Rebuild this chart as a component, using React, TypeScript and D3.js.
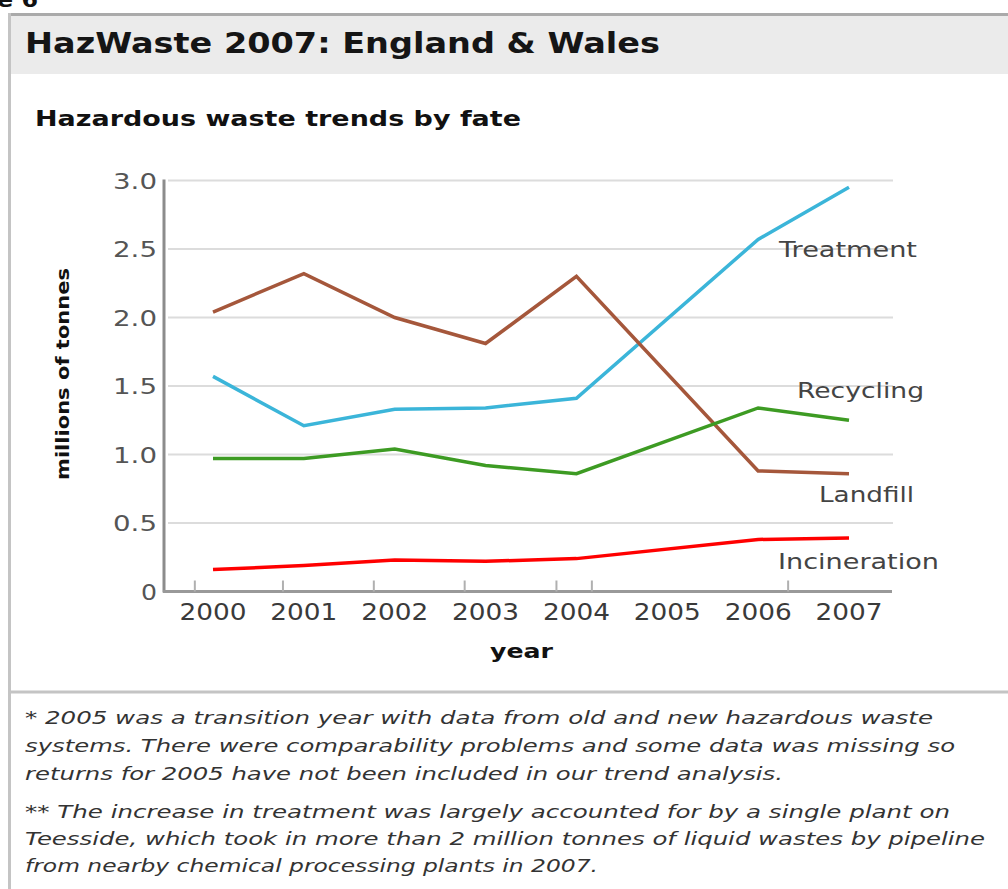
import * as d3 from 'd3'

// years with data (2005 left out of the trend analysis)
const years = [2000, 2001, 2002, 2003, 2004, 2006, 2007]
const yearLabels = ['2000', '2001', '2002', '2003', '2004', '2005', '2006', '2007']
const tickYears = [1999.8, 2000.77, 2001.77, 2002.77, 2003.78, 2004.17, 2006.33]
const yTicks = [0, 0.5, 1.0, 1.5, 2.0, 2.5, 3.0]

const treatment = [1.57, 1.21, 1.33, 1.34, 1.41, 2.57, 2.95]
const landfill = [2.04, 2.32, 2.0, 1.81, 2.3, 0.88, 0.86]
const recycling = [0.97, 0.97, 1.04, 0.92, 0.86, 1.34, 1.25]
const incineration = [0.16, 0.19, 0.23, 0.22, 0.24, 0.38, 0.39]

const seriesNames = ['Treatment', 'Landfill', 'Recycling', 'Incineration']
const seriesColors = ['#3bb5d9', '#a5573b', '#3d9b23', '#ff0000']

const footnote1 = [
  '* 2005 was a transition year with data from old and new hazardous waste',
  'systems. There were comparability problems and some data was missing so',
  'returns for 2005 have not been included in our trend analysis.'
]
const footnote2 = [
  '** The increase in treatment was largely accounted for by a single plant on',
  'Teesside, which took in more than 2 million tonnes of liquid wastes by pipeline',
  'from nearby chemical processing plants in 2007.'
]

const FONT = '"DejaVu Sans", Verdana, sans-serif'

export default function App() {
  const width = 1008
  const height = 889

  const x = d3.scaleLinear().domain([2000, 2007]).range([213, 849])
  const y = d3.scaleLinear().domain([0, 3]).range([591.5, 180.5])

  const allSeries = [treatment, landfill, recycling, incineration]
  const line = d3
    .line<number>()
    .x((_, i) => x(years[i]))
    .y(d => y(d))

  // label placement: [x, baseline, width]
  const labelPos: [number, number, number][] = [
    [779, 257, 138],
    [819, 502, 95],
    [797, 398, 127],
    [778, 569, 161]
  ]
  const fn1Widths = [908, 930, 758]
  const fn2Widths = [925, 960, 573]

  return (
    <svg
      width={width}
      height={height}
      style={{ position: 'absolute', left: 0, top: 0, background: '#fff' }}
      fontFamily={FONT}
    >
      {/* cropped caption at the very top */}
      <text x={-3} y={7} fontSize={22} fontWeight="bold" fill="#111" textLength={41} lengthAdjust="spacingAndGlyphs">
        e 6
      </text>

      {/* frame + header */}
      <rect x={11} y={16} width={997} height={58} fill="#ebebeb" />
      <line x1={8} x2={1008} y1={14.5} y2={14.5} stroke="#aaa" strokeWidth={3} />
      <line x1={9.5} x2={9.5} y1={13} y2={889} stroke="#c4c4c4" strokeWidth={3} />
      <text x={25} y={53} fontSize={29} fontWeight="bold" fill="#151515" textLength={635} lengthAdjust="spacingAndGlyphs">
        HazWaste 2007: England &amp; Wales
      </text>
      <text x={35} y={126} fontSize={22} fontWeight="bold" fill="#111" textLength={486} lengthAdjust="spacingAndGlyphs">
        Hazardous waste trends by fate
      </text>

      {/* grid */}
      {yTicks.slice(1).map(t => (
        <line key={t} x1={168} x2={893} y1={y(t)} y2={y(t)} stroke="#dcdcdc" strokeWidth={2} />
      ))}

      {/* axes */}
      <line x1={164} x2={164} y1={y(3) - 1} y2={y(0) + 1} stroke="#8c8c8c" strokeWidth={3} />
      <line x1={163} x2={892} y1={y(0)} y2={y(0)} stroke="#999" strokeWidth={3} />
      {tickYears.map(t => (
        <line key={t} x1={x(t)} x2={x(t)} y1={y(0) - 11} y2={y(0)} stroke="#b0b0b0" strokeWidth={2} />
      ))}

      {/* y tick labels */}
      {yTicks.map(t => {
        const s = t === 0 ? '0' : t.toFixed(1)
        return (
          <text
            key={t}
            x={157}
            y={y(t) + 8}
            fontSize={22}
            fill="#555"
            textAnchor="end"
            textLength={t === 0 ? 16 : 44}
            lengthAdjust="spacingAndGlyphs"
          >
            {s}
          </text>
        )
      })}

      {/* x tick labels */}
      {yearLabels.map((s, i) => (
        <text
          key={s}
          x={x(2000 + i) - 33.5}
          y={620}
          fontSize={23}
          fill="#3a3a3a"
          textLength={67}
          lengthAdjust="spacingAndGlyphs"
        >
          {s}
        </text>
      ))}

      {/* axis titles */}
      <text
        transform="translate(69,374) rotate(-90)"
        fontSize={18}
        fontWeight="bold"
        fill="#111"
        textAnchor="middle"
        textLength={212}
        lengthAdjust="spacingAndGlyphs"
      >
        millions of tonnes
      </text>
      <text x={490} y={658} fontSize={19} fontWeight="bold" fill="#111" textLength={63} lengthAdjust="spacingAndGlyphs">
        year
      </text>

      {/* series */}
      {allSeries.map((s, i) => (
        <path
          key={seriesNames[i]}
          d={line(s) || ''}
          fill="none"
          stroke={seriesColors[i]}
          strokeWidth={3.5}
          strokeLinejoin="miter"
        />
      ))}
      {seriesNames.map((n, i) => (
        <text
          key={n}
          x={labelPos[i][0]}
          y={labelPos[i][1]}
          fontSize={22}
          fill="#444"
          textLength={labelPos[i][2]}
          lengthAdjust="spacingAndGlyphs"
        >
          {n}
        </text>
      ))}

      {/* footnotes */}
      <line x1={10} x2={1008} y1={692} y2={692} stroke="#c4c4c4" strokeWidth={3} />
      {footnote1.map((s, i) => (
        <text
          key={s}
          x={25}
          y={724 + i * 28}
          fontSize={17}
          fontStyle="italic"
          fill="#333"
          textLength={fn1Widths[i]}
          lengthAdjust="spacingAndGlyphs"
        >
          {s}
        </text>
      ))}
      {footnote2.map((s, i) => (
        <text
          key={s}
          x={25}
          y={818 + i * 27}
          fontSize={17}
          fontStyle="italic"
          fill="#333"
          textLength={fn2Widths[i]}
          lengthAdjust="spacingAndGlyphs"
        >
          {s}
        </text>
      ))}
    </svg>
  )
}
